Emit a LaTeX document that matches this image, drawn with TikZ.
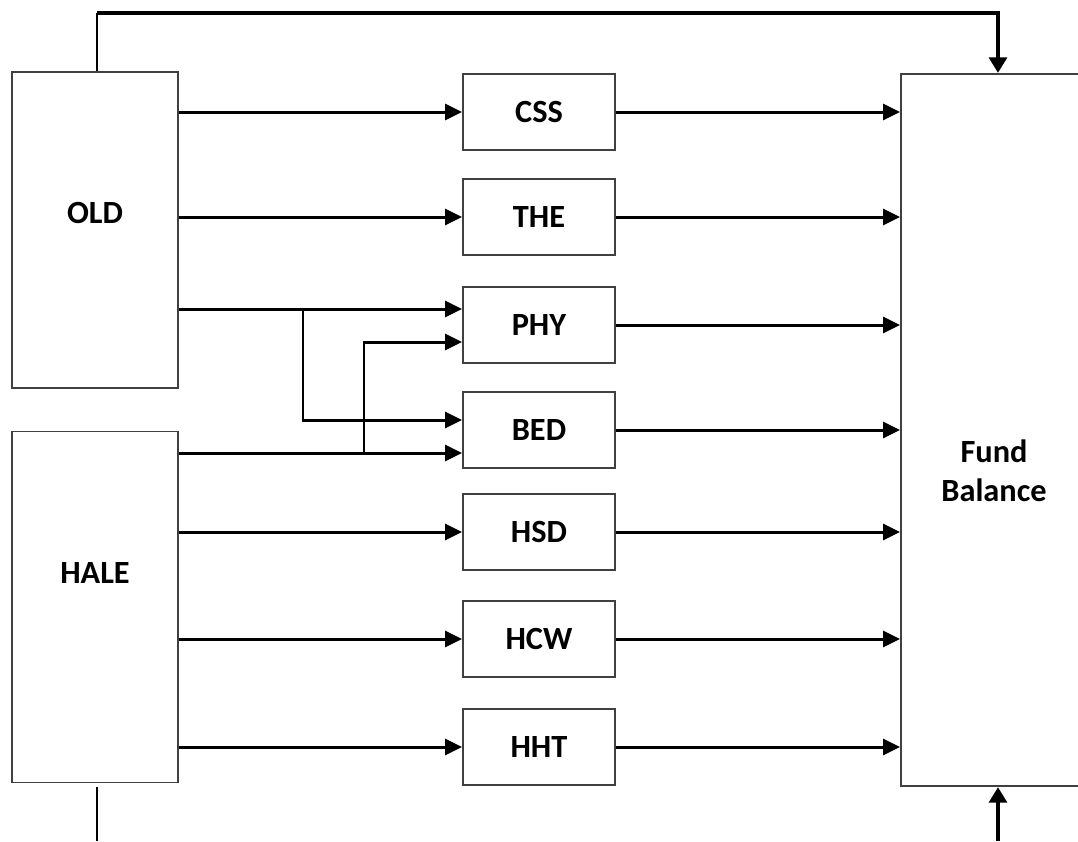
\documentclass[tikz,border=0pt]{standalone}
\usepackage{fontspec}
\setmainfont{Carlito}
\usetikzlibrary{arrows.meta}
\begin{document}
\begin{tikzpicture}[x=0.01cm, y=-0.01cm,
    box/.style={draw=black!75, line width=0.5pt, fill=white, inner sep=0pt},
    midbox/.style={box, minimum width=1.52cm, minimum height=0.76cm},
    lbl/.style={font=\fontsize{9.2}{11}\selectfont\bfseries, align=center},
    arr/.style={-{Triangle[length=4.8pt,width=4.5pt]}, line width=0.85pt},
    bigarr/.style={-{Triangle[length=4.4pt,width=5pt]}, line width=1.1pt}]
    \useasboundingbox (0,0) rectangle (1078,841);

    % 左侧两个大框
    \node[box, minimum width=1.66cm, minimum height=3.16cm] (old) at (95,230) {};
    \node[lbl] (oldtxt) at (95,213) {OLD};
    \node[box, minimum width=1.66cm, minimum height=3.51cm] (hale) at (95,607) {};
    \node[lbl] (haletxt) at (95,573) {HALE};

    % 右侧大框
    \node[box, minimum width=1.86cm, minimum height=7.12cm] (fund) at (994,430) {};
    \node[lbl] (fundtxt) at (994,471) {Fund\\Balance};

    % 中间一列
    \foreach \n/\t/\y in {css/CSS/112, the/THE/217, phy/PHY/325, bed/BED/430,
                          hsd/HSD/532, hcw/HCW/639, hht/HHT/747} {
        \node[midbox, lbl] (\n) at (539,\y) {\t};
        \draw[arr] (\n.east) -- (\n.east -| fund.west);
    }

    % 直接连接
    \foreach \n in {css, the}
        \draw[arr] (old.east |- \n) -- (\n.west);
    \foreach \n in {hsd, hcw, hht}
        \draw[arr] (hale.east |- \n) -- (\n.west);

    % 交叉连接
    \coordinate (brold) at (303,309);
    \coordinate (brhale) at (364,453);
    \draw[arr] (old.east |- brold) -- (phy.west |- brold);
    \draw[arr] (brold) |- (bed.west |- 0,420);
    \draw[arr] (hale.east |- brhale) -- (bed.west |- brhale);
    \draw[arr] (brhale) |- (phy.west |- 0,342);

    % 上下的回路
    \coordinate (topl) at (97,13);
    \coordinate (botl) at (97,841);
    \coordinate (botr) at (998,841);
    \draw[line width=0.85pt] (old.north -| topl) -- (topl);
    \draw[bigarr] (topl) -| (fund.north -| 998,0);
    \draw[line width=0.85pt] (hale.south -| botl) ++(0,4) -- (botl);
    \draw[bigarr] (botr) -- (fund.south -| botr);
\end{tikzpicture}
\end{document}
